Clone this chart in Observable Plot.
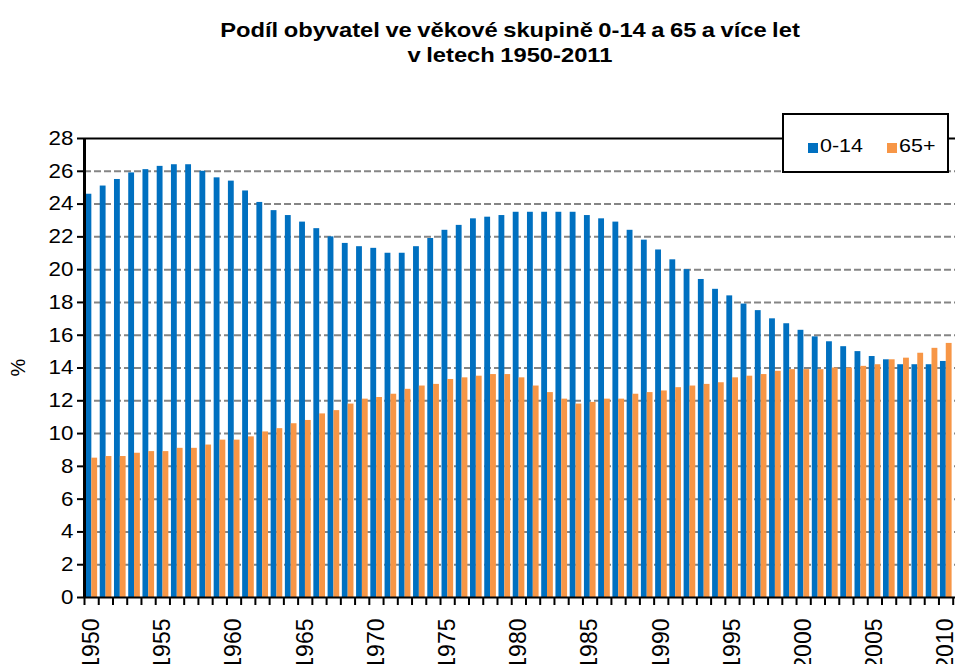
<!DOCTYPE html>
<html><head><meta charset="utf-8">
<script src="https://cdn.jsdelivr.net/npm/d3@7"></script>
<script src="https://cdn.jsdelivr.net/npm/@observablehq/plot@0.6"></script>
<style>
html,body{margin:0;padding:0;background:#fff;overflow:hidden;}
#wrap{position:relative;width:955px;height:664px;font-family:"Liberation Sans",Arial,sans-serif;color:#000;}
#title{position:absolute;left:160px;width:700px;top:17px;text-align:center;font-weight:bold;font-size:21px;line-height:25px;transform:scaleX(1.13);transform-origin:50% 0;word-spacing:-1px;}
#legend{position:absolute;left:782px;top:113px;width:163px;height:56px;border:2px solid #000;background:#fff;}
.sw{position:absolute;width:10px;height:10px;top:28px;}
.lt{position:absolute;top:20px;font-size:19px;line-height:22px;transform:scaleX(1.13);transform-origin:0 0;}
#ylab{position:absolute;left:6px;top:356px;font-size:20px;transform:rotate(-90deg);transform-origin:50% 50%;width:24px;text-align:center;}
#chart{position:absolute;left:0;top:0;}
</style></head>
<body>
<div id="wrap">
  <div id="chart"></div>
  <div id="title">Podíl obyvatel ve věkové skupině 0-14 a 65 a více let<br>v letech 1950-2011</div>
  <div id="ylab">%</div>
  <div id="legend"></div>
</div>
<script>
const years = d3.range(1950, 2011);
const share0014 = [
  24.6, 25.1, 25.5, 25.9, 26.1, 26.3, 26.4, 26.4, 26.0, 25.6,
  25.4, 24.8, 24.1, 23.6, 23.3, 22.9, 22.5, 22.0, 21.6, 21.4,
  21.3, 21.0, 21.0, 21.4, 21.9, 22.4, 22.7, 23.1, 23.2, 23.3,
  23.5, 23.5, 23.5, 23.5, 23.5, 23.3, 23.1, 22.9, 22.4, 21.8,
  21.2, 20.6, 20.0, 19.4, 18.8, 18.4, 17.9, 17.5, 17.0, 16.7,
  16.3, 15.9, 15.6, 15.3, 15.0, 14.7, 14.5, 14.2, 14.2, 14.2, 14.4
];
const share65 = [
  8.5, 8.6, 8.6, 8.8, 8.9, 8.9, 9.1, 9.1, 9.3, 9.6,
  9.6, 9.8, 10.1, 10.3, 10.6, 10.8, 11.2, 11.4, 11.8, 12.1,
  12.2, 12.4, 12.7, 12.9, 13.0, 13.3, 13.4, 13.5, 13.6, 13.6,
  13.4, 12.9, 12.5, 12.1, 11.8, 11.9, 12.1, 12.1, 12.4, 12.5,
  12.6, 12.8, 12.9, 13.0, 13.1, 13.4, 13.5, 13.6, 13.8, 13.9,
  13.9, 13.9, 14.0, 14.0, 14.1, 14.2, 14.5, 14.6, 14.9, 15.2, 15.5
];
const seriesNames = ["0-14", "65+"];
const seriesColors = ["#0070C0", "#F79646"];
const yTicks = d3.range(0, 29, 2);
const xLabelYears = d3.range(1950, 2011, 5);

const data = years.map((year, i) => ({year, a: share0014[i], b: share65[i]}));
const bounds = [...years.map(y => y - 0.5), years[years.length - 1] + 0.5];
const x0 = bounds[0], x1 = bounds[bounds.length - 1];

const chart = Plot.plot({
  width: 955, height: 664,
  marginTop: 138, marginBottom: 67, marginLeft: 84, marginRight: 2.3,
  style: {fontFamily: "Liberation Sans, Arial, sans-serif", fontSize: "20px", color: "#000", background: "transparent", overflow: "visible"},
  x: {domain: [x0, x1], axis: null},
  y: {domain: [0, 28], axis: null},
  marks: [
    Plot.ruleY(yTicks.filter(v => v > 0 && v < 28), {x1: x0, x2: x1 + 0.2, stroke: "#858585", strokeWidth: 2, strokeDasharray: "7,3"}),
    Plot.rectY(data, {x1: d => d.year - 0.5, x2: d => d.year + 0.5, y1: 0, y2: "a", fill: seriesColors[0], insetLeft: 1.5, insetRight: 6.9}),
    Plot.rectY(data, {x1: d => d.year - 0.5, x2: d => d.year + 0.5, y1: 0, y2: "b", fill: seriesColors[1], insetLeft: 7.3, insetRight: 1.1}),
    Plot.ruleY([28], {x1: x0, x2: x1 + 0.2, stroke: "#000", strokeWidth: 2}),
    Plot.ruleY([0], {x1: x0, x2: x1 + 0.2, stroke: "#000", strokeWidth: 2}),
    Plot.ruleX([x0], {y1: 0, y2: 28, stroke: "#000", strokeWidth: 3}),
    Plot.axisY(yTicks, {tickSize: 7, tickPadding: 4, strokeWidth: 2, stroke: "#000", fontSize: 20, fill: "#000"}),
    Plot.axisX(bounds, {tickSize: 8, tickFormat: () => "", strokeWidth: 2, stroke: "#000"}),
    Plot.text(xLabelYears, {x: d => d, y: 0, text: d => String(d), rotate: -90, textAnchor: "end", lineAnchor: "middle", dy: 21, fontSize: 23, fill: "#000"})
  ]
});
document.getElementById("chart").appendChild(chart);
d3.select(chart).selectAll('g[aria-label="y-axis tick label"] text').each(function () {
  const t = this.getAttribute("transform") || "";
  this.setAttribute("transform", t + " scale(1.12,1)");
});

const legend = d3.select("#legend");
const itemX = [24, 103];
seriesNames.forEach((name, i) => {
  legend.append("div").attr("class", "sw").style("left", itemX[i] + "px").style("background", seriesColors[i]);
  legend.append("div").attr("class", "lt").style("left", (itemX[i] + 12) + "px").text(name);
});
</script>
</body></html>
